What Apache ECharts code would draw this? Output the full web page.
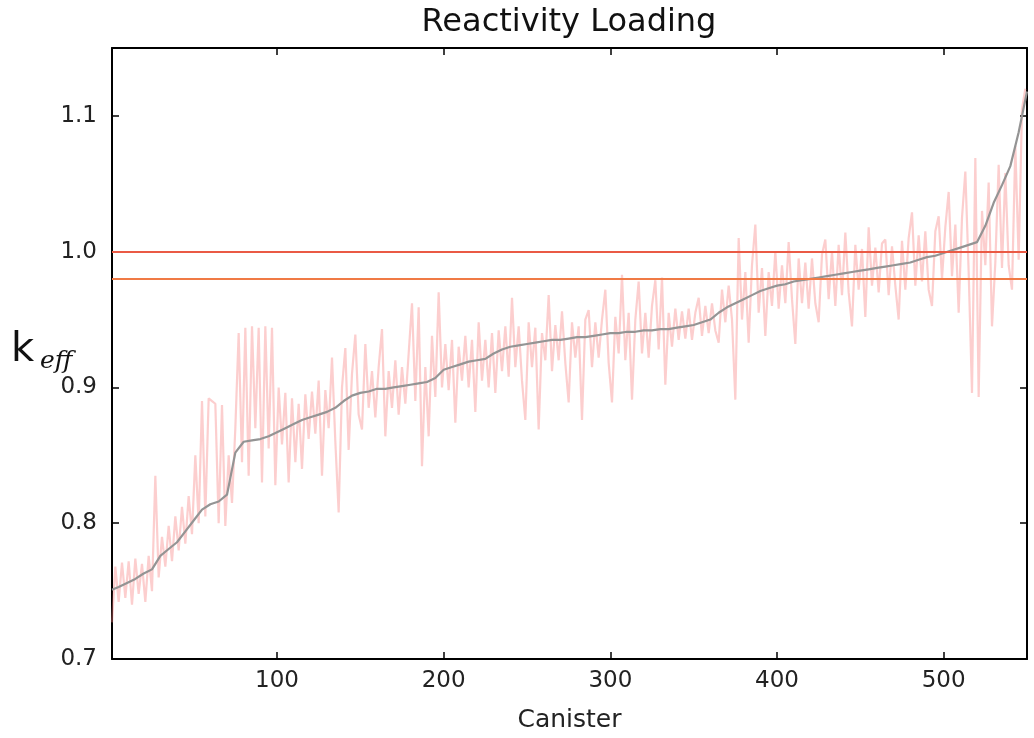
<!DOCTYPE html>
<html>
<head>
<meta charset="utf-8">
<script src="https://cdn.jsdelivr.net/npm/echarts@6/dist/echarts.min.js"></script>
<style>
html, body { margin: 0; padding: 0; background: #fff; }
#chart { width: 1034px; height: 738px; }
</style>
</head>
<body>
<div id="chart"></div>
<script>
// sorted mean k_eff, one value every 5 canisters (1, 5, 10, ... 550)
var medianK = [
  0.751, 0.753, 0.756, 0.759, 0.763, 0.766, 0.776, 0.781, 0.786, 0.794,
  0.802, 0.810, 0.814, 0.816, 0.821, 0.852, 0.860, 0.861, 0.862, 0.864,
  0.867, 0.870, 0.873, 0.876, 0.878, 0.880, 0.882, 0.885, 0.890, 0.894,
  0.896, 0.897, 0.899, 0.899, 0.900, 0.901, 0.902, 0.903, 0.904, 0.907,
  0.913, 0.915, 0.917, 0.919, 0.920, 0.921, 0.925, 0.928, 0.930, 0.931,
  0.932, 0.933, 0.934, 0.935, 0.935, 0.936, 0.937, 0.937, 0.938, 0.939,
  0.940, 0.940, 0.941, 0.941, 0.942, 0.942, 0.943, 0.943, 0.944, 0.945,
  0.946, 0.948, 0.950, 0.955, 0.959, 0.962, 0.965, 0.968, 0.971, 0.973,
  0.975, 0.976, 0.978, 0.979, 0.980, 0.981, 0.982, 0.983, 0.984, 0.985,
  0.986, 0.987, 0.988, 0.989, 0.990, 0.991, 0.992, 0.994, 0.996, 0.997,
  0.999, 1.001, 1.003, 1.005, 1.007, 1.019, 1.036, 1.049, 1.063, 1.088,
  1.118
];

// individual canister k_eff, every 2nd canister (1, 3, 5, ... 549)
var canisterK = [
  0.727, 0.768, 0.742, 0.771, 0.745, 0.772, 0.740, 0.774, 0.748, 0.770,
  0.742, 0.776, 0.750, 0.835, 0.760, 0.790, 0.768, 0.798, 0.772, 0.805,
  0.780, 0.812, 0.785, 0.820, 0.792, 0.850, 0.800, 0.890, 0.805, 0.892,
  0.890, 0.888, 0.800, 0.887, 0.798, 0.850, 0.815, 0.870, 0.940, 0.845,
  0.944, 0.835, 0.945, 0.870, 0.944, 0.830, 0.945, 0.855, 0.944, 0.828,
  0.900, 0.858, 0.896, 0.830, 0.892, 0.845, 0.888, 0.840, 0.895, 0.862,
  0.897, 0.866, 0.905, 0.835, 0.898, 0.870, 0.922, 0.860, 0.808, 0.900,
  0.929, 0.854, 0.910, 0.939, 0.880, 0.869, 0.932, 0.885, 0.912, 0.878,
  0.915, 0.943, 0.864, 0.912, 0.885, 0.920, 0.880, 0.915, 0.888, 0.925,
  0.962, 0.890, 0.959, 0.842, 0.915, 0.864, 0.938, 0.893, 0.970, 0.900,
  0.932, 0.898, 0.935, 0.874, 0.930, 0.905, 0.938, 0.900, 0.935, 0.882,
  0.948, 0.905, 0.935, 0.900, 0.940, 0.896, 0.942, 0.912, 0.945, 0.908,
  0.966, 0.915, 0.945, 0.905, 0.876, 0.948, 0.915, 0.944, 0.869, 0.940,
  0.920, 0.968, 0.912, 0.946, 0.920, 0.956, 0.918, 0.889, 0.948, 0.922,
  0.945, 0.876, 0.950, 0.957, 0.915, 0.948, 0.922, 0.950, 0.972, 0.918,
  0.889, 0.952, 0.925, 0.983, 0.920, 0.955, 0.891, 0.950, 0.978, 0.925,
  0.955, 0.922, 0.960, 0.979, 0.928, 0.981, 0.902, 0.955, 0.930, 0.958,
  0.935, 0.956, 0.936, 0.958, 0.935, 0.955, 0.966, 0.938, 0.960, 0.940,
  0.962, 0.942, 0.933, 0.972, 0.948, 0.975, 0.950, 0.891, 1.010, 0.950,
  0.985, 0.933, 0.990, 1.020, 0.955, 0.988, 0.938, 0.985, 0.960, 1.000,
  0.958, 0.990, 0.962, 1.007, 0.965, 0.932, 0.995, 0.962, 0.992, 0.958,
  0.995, 0.962, 0.948, 0.998, 1.009, 0.965, 1.000, 0.960, 1.005, 0.968,
  1.014, 0.970, 0.945, 1.005, 0.972, 1.002, 0.952, 1.018, 0.975, 1.003,
  0.970, 1.006, 1.009, 0.968, 1.004, 0.975, 0.950, 1.008, 0.972, 1.010,
  1.029, 0.975, 1.012, 0.978, 1.015, 0.972, 0.960, 1.015, 1.026, 0.980,
  1.018, 1.044, 0.982, 1.020, 0.955, 1.025, 1.059, 0.985, 0.896, 1.069,
  0.893, 1.030, 0.990, 1.051, 0.945, 0.992, 1.064, 0.988, 1.058, 0.990,
  0.972, 1.078, 0.994, 1.105, 1.120
];

var limits = [1.0, 0.98];
var limitColors = ['#ea5a45', '#f07a45'];
var xTicks = [100, 200, 300, 400, 500];
var yTicks = [0.7, 0.8, 0.9, 1.0, 1.1];

var medianX = [1];
for (var c = 5; c <= 550; c += 5) medianX.push(c);
var canisterX = [];
for (var c2 = 1; c2 < 550; c2 += 2) canisterX.push(c2);

var medianData = medianX.map(function (x, i) { return [x, medianK[i]]; });
var canisterData = canisterX.map(function (x, i) { return [x, canisterK[i]]; });

var font = 'DejaVu Sans';
var axisLine = { show: true, onZero: false, lineStyle: { color: '#000', width: 2 } };
var tickStyle = { show: true, inside: true, length: 7, lineStyle: { color: '#000', width: 1.5 } };

function xAxisCfg(pos, labels) {
  return {
    type: 'value', position: pos, min: 1, max: 550,
    axisLine: axisLine,
    axisTick: Object.assign({ customValues: xTicks }, tickStyle),
    axisLabel: { show: labels, customValues: xTicks, color: '#222', fontFamily: font, fontSize: 23, margin: 11 },
    splitLine: { show: false },
    name: labels ? 'Canister' : '', nameLocation: 'middle', nameGap: 49,
    nameTextStyle: { color: '#222', fontFamily: font, fontSize: 25 }
  };
}
function yAxisCfg(pos, labels) {
  return {
    type: 'value', position: pos, min: 0.7, max: 1.15,
    axisLine: axisLine,
    axisTick: Object.assign({ customValues: yTicks }, tickStyle),
    axisLabel: { show: labels, customValues: yTicks, color: '#222', fontFamily: font, fontSize: 23, margin: 15,
      formatter: function (v) { return v.toFixed(1); } },
    splitLine: { show: false }
  };
}

var chart = echarts.init(document.getElementById('chart'));
chart.setOption({
  animation: false,
  backgroundColor: '#fff',
  grid: { left: 112, right: 7, top: 48, bottom: 78 },
  xAxis: [xAxisCfg('bottom', true), xAxisCfg('top', false)],
  yAxis: [yAxisCfg('left', true), yAxisCfg('right', false)],
  graphic: [
    // title centred over the plot area, as in the original figure
    { type: 'text', x: 569, y: 23, style: { text: 'Reactivity Loading', fill: '#111', font: '32px "DejaVu Sans"',
      textAlign: 'center', textVerticalAlign: 'middle' } },
    { type: 'text', left: 11, top: 331, style: { text: 'k', fill: '#111', font: '40px "DejaVu Sans"' } },
    { type: 'text', left: 40, top: 349, style: { text: 'eff', fill: '#111', font: 'italic 25px "DejaVu Serif"' } }
  ],
  series: [
    {
      type: 'line', data: canisterData, symbol: 'none', z: 2,
      lineStyle: { color: 'rgba(246, 125, 125, 0.38)', width: 2.2 }
    },
    {
      type: 'line', data: medianData, symbol: 'none', z: 3,
      lineStyle: { color: '#949494', width: 2.2 }
    },
    {
      type: 'line', data: [], z: 4,
      markLine: {
        silent: true, symbol: 'none', label: { show: false },
        data: limits.map(function (v, i) {
          return { yAxis: v, lineStyle: { color: limitColors[i], width: 2, type: 'solid' } };
        })
      }
    }
  ]
});
</script>
</body>
</html>
